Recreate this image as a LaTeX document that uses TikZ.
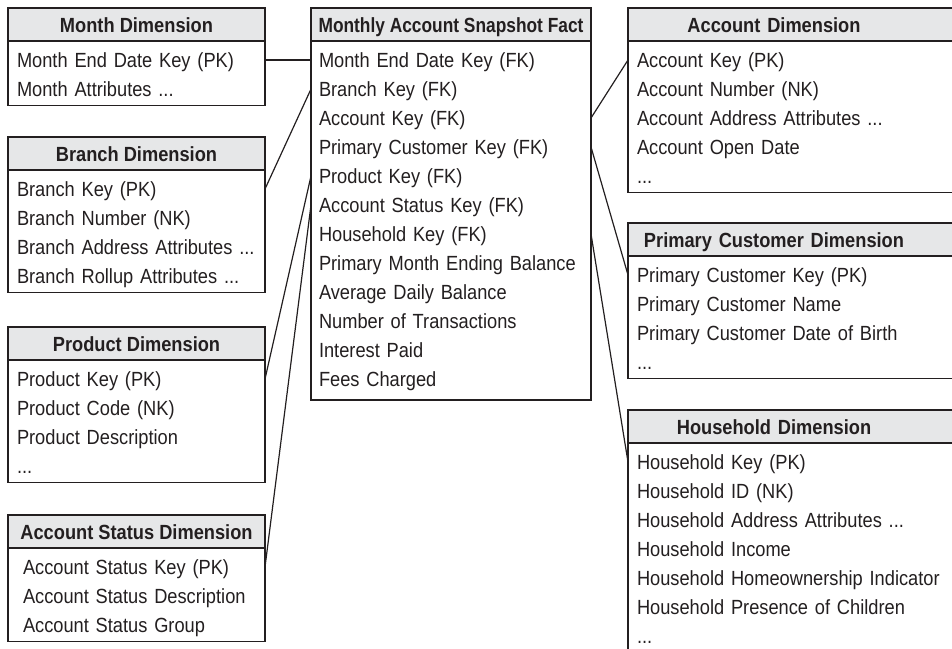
\documentclass[tikz,border=0pt]{standalone}
\usepackage{fontspec}
\setmainfont{Liberation Sans}[FakeStretch=0.89]
\usetikzlibrary{positioning, calc}
\definecolor{hdgray}{RGB}{230,231,232}
\definecolor{ink}{RGB}{35,31,32}
\newcommand{\tabtop}{\rule{0pt}{26.5pt}}
\newcommand{\tabend}[1][9pt]{\rule[-#1]{0pt}{#1}}
\newcommand{\rtitle}[1]{\makebox[274pt][c]{#1}}

\begin{document}
\begin{tikzpicture}[
  every node/.style={font=\fontsize{20.5}{29}\selectfont, text=ink},
  frame/.style = {draw=ink, line width=1.2pt, inner ysep=0pt, inner xsep=9pt, outer sep=0pt, anchor=north west},
  head/.style  = {frame, fill=hdgray, font=\bfseries\fontsize{20.5}{29}\selectfont, minimum height=33pt, text height=15pt, text depth=0pt, minimum width=257pt},
  fhead/.style = {head, minimum width=280pt, inner xsep=0pt},
  rhead/.style = {head, text width=354pt, align=left},
  body/.style  = {frame, fill=white, text width=239pt, align=left},
  fbody/.style = {body, text width=264pt, inner xsep=8pt},
  rbody/.style = {body, text width=354pt},
  link/.style  = {draw=ink, line width=1.2pt},
]
  \useasboundingbox (0,0) rectangle (952pt,-648pt);
  \clip (0,0) rectangle (952pt,-648pt);

  \node[head] (monthH) at (8pt,-8pt) {Month Dimension};
  \node[body, below=0pt of monthH] (monthB) {\tabtop Month End Date Key (PK)\\ Month Attributes ...\tabend};
  \node[head, below=31.5pt of monthB] (branchH) {Branch Dimension};
  \node[body, below=0pt of branchH] (branchB) {\tabtop Branch Key (PK)\\ Branch Number (NK)\\ Branch Address Attributes ...\\ Branch Rollup Attributes ...\tabend};
  \node[head, below=34.5pt of branchB] (productH) {Product Dimension};
  \node[body, below=0pt of productH] (productB) {\tabtop Product Key (PK)\\ Product Code (NK)\\ Product Description\\ ...\tabend};
  \node[head, below=32.5pt of productB] (statusH) {Account Status Dimension};
  \node[body, below=0pt of statusH, inner xsep=15pt, text width=227pt] (statusB) {\tabtop Account Status Key (PK)\\ Account Status Description\\ Account Status Group\tabend};

  \node[fhead] (factH) at (311pt,-8pt) {\scalebox{0.95}[1]{Monthly Account Snapshot Fact}};
  \node[fbody, below=0pt of factH] (factB) {\tabtop Month End Date Key (FK)\\ Branch Key (FK)\\ Account Key (FK)\\ Primary Customer Key (FK)\\ Product Key (FK)\\ Account Status Key (FK)\\ Household Key (FK)\\ Primary Month Ending Balance\\ Average Daily Balance\\ Number of Transactions\\ Interest Paid\\ Fees Charged\tabend[13.5pt]};

  \node[rhead] (accountH) at (628pt,-8pt) {\rtitle{Account Dimension}};
  \node[rbody, below=0pt of accountH] (accountB) {\tabtop Account Key (PK)\\ Account Number (NK)\\ Account Address Attributes ...\\ Account Open Date\\ ...\tabend};
  \node[rhead, below=30.5pt of accountB] (custH) {\rtitle{Primary Customer Dimension}};
  \node[rbody, below=0pt of custH] (custB) {\tabtop Primary Customer Key (PK)\\ Primary Customer Name\\ Primary Customer Date of Birth\\ ...\tabend};
  \node[rhead, below=31.5pt of custB] (hhH) {\rtitle{Household Dimension}};
  \node[rbody, below=0pt of hhH] (hhB) {\tabtop Household Key (PK)\\ Household ID (NK)\\ Household Address Attributes ...\\ Household Income\\ Household Homeownership Indicator\\ Household Presence of Children\\ ...\tabend};

  \foreach \n in {monthB, branchB, productB, statusB}
    \coordinate (\n-pk) at ($(\n.north east)+(0,-19pt)$);
  \foreach \n in {accountB, custB, hhB}
    \coordinate (\n-pk) at ($(\n.north west)+(0,-19pt)$);
  \foreach \k in {1,...,7}{
    \coordinate (fl\k) at ($(factB.north west)+(0,{-19pt-(\k-1)*29pt})$);
    \coordinate (fr\k) at ($(factB.north east)+(0,{-19pt-(\k-1)*29pt})$);
  }
  \foreach \a/\b in {monthB-pk/fl1, branchB-pk/fl2, productB-pk/fl5, statusB-pk/fl6, fr3/accountB-pk, fr4/custB-pk, fr7/hhB-pk}
    \draw[link] (\a) -- (\b);
\end{tikzpicture}
\end{document}
